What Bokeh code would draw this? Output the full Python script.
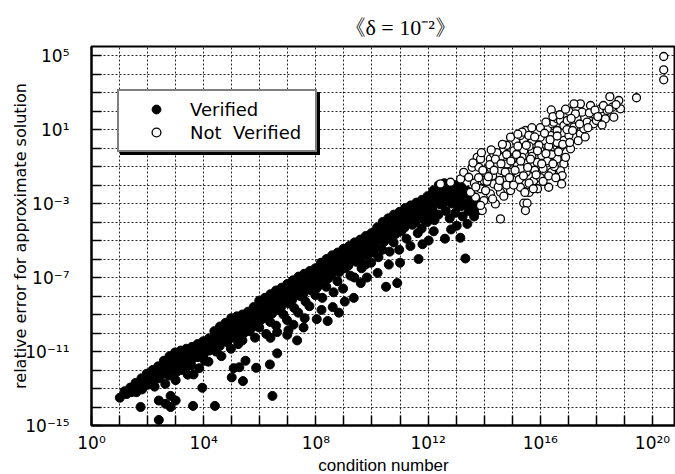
from bokeh.plotting import figure
from bokeh.models import (Range1d, FixedTicker, CustomJSTickFormatter, Legend,
                          LegendItem, ColumnDataSource, Title)
from bokeh.core.properties import value
from bokeh.embed import file_html
from bokeh.resources import INLINE

# ---------------- data (log10 values) ----------------
title_text = "《δ = 10⁻²》"
x_axis_title = "condition number"
y_axis_title = "relative error for approximate solution"
series_names = ["Verified", "Not  Verified"]

x_tick_exponents = list(range(0, 21))
x_label_exponents = [0, 4, 8, 12, 16, 20]
x_tick_labels = ["10⁰", "10⁴", "10⁸", "10¹²", "10¹⁶", "10²⁰"]
y_tick_exponents = list(range(-15, 6))
y_label_exponents = [5, 1, -3, -7, -11, -15]
y_tick_labels = ["10⁵", "10¹", "10⁻³", "10⁻⁷", "10⁻¹¹", "10⁻¹⁵"]

# (log10 condition number, log10 relative error)
verified_points = [
    (1.18, -13.15), (1.25, -13.3), (1.38, -12.95), (1.42, -13.2),
    (1.57, -12.7), (1.63, -12.95), (1.6, -13.2), (1.78, -12.45), (1.83, -12.75), (1.8, -13.05),
    (1.97, -12.2), (2.02, -12.5), (2.0, -12.8), (2.18, -12.0), (2.22, -12.3), (2.2, -12.6), (2.25, -12.9),
    (2.38, -11.8), (2.42, -12.1), (2.4, -12.45), (2.58, -11.5), (2.62, -11.85), (2.6, -12.2), (2.63, -12.75),
    (2.78, -11.25), (2.82, -11.6), (2.8, -11.95), (2.77, -12.3),
    (2.98, -11.05), (3.02, -11.4), (3.0, -11.75), (3.04, -12.1), (3.0, -12.55),
    (3.18, -10.95), (3.22, -11.3), (3.2, -11.65), (3.24, -12.0),
    (3.38, -10.85), (3.42, -11.2), (3.4, -11.5), (3.37, -11.85), (3.43, -12.25),
    (3.58, -10.75), (3.62, -11.05), (3.6, -11.4), (3.56, -11.75),
    (3.78, -10.6), (3.82, -10.95), (3.8, -11.3), (3.84, -11.9),
    (3.98, -10.45), (4.02, -10.8), (4.0, -11.15), (4.04, -11.5),
    (4.18, -10.3), (4.22, -10.6), (4.2, -10.95), (4.17, -11.55),
    (4.38, -9.9), (4.42, -10.25), (4.4, -10.6), (4.44, -11.0),
    (4.58, -9.65), (4.62, -10.0), (4.6, -10.35), (4.57, -10.7), (4.63, -11.25),
    (4.78, -9.45), (4.82, -9.8), (4.8, -10.15), (4.84, -10.5),
    (4.98, -9.2), (5.02, -9.55), (5.0, -9.9), (5.04, -10.25), (4.97, -10.85),
    (5.18, -9.1), (5.22, -9.45), (5.2, -9.8), (5.16, -10.15), (5.23, -10.6),
    (5.38, -9.0), (5.42, -9.3), (5.4, -9.65), (5.44, -10.0), (5.38, -10.4),
    (5.58, -8.85), (5.62, -9.2), (5.6, -9.55), (5.64, -9.9),
    (5.78, -8.6), (5.82, -8.95), (5.8, -9.3), (5.76, -9.65), (5.83, -10.25),
    (5.98, -8.25), (6.02, -8.6), (6.0, -8.95), (6.04, -9.3), (5.98, -9.7),
    (6.18, -8.1), (6.22, -8.45), (6.2, -8.8), (6.16, -9.15), (6.23, -10.05),
    (6.38, -7.9), (6.42, -8.25), (6.4, -8.6), (6.44, -8.95), (6.37, -9.4),
    (6.58, -7.7), (6.62, -8.05), (6.6, -8.4), (6.64, -8.75), (6.58, -9.6), (6.62, -9.95),
    (6.78, -7.55), (6.82, -7.9), (6.8, -8.25), (6.76, -8.6), (6.84, -9.0),
    (6.98, -7.35), (7.02, -7.7), (7.0, -8.05), (7.04, -8.4), (6.97, -9.3), (7.02, -9.85),
    (7.18, -7.15), (7.22, -7.5), (7.2, -7.85), (7.16, -8.2), (7.23, -8.65), (7.2, -9.55),
    (7.38, -6.95), (7.42, -7.3), (7.4, -7.65), (7.44, -8.0), (7.37, -8.9),
    (7.58, -6.8), (7.62, -7.15), (7.6, -7.5), (7.56, -7.85), (7.63, -8.3), (7.6, -9.2),
    (7.78, -6.65), (7.82, -7.0), (7.8, -7.35), (7.84, -7.7), (7.77, -8.55),
    (7.98, -6.5), (8.02, -6.85), (8.0, -7.2), (8.04, -7.55), (7.98, -7.95), (8.03, -9.25),
    (8.18, -6.2), (8.22, -6.55), (8.2, -6.9), (8.16, -7.25), (8.23, -8.1), (8.2, -8.75),
    (8.38, -6.0), (8.42, -6.35), (8.4, -6.7), (8.44, -7.05), (8.37, -7.5), (8.42, -9.35),
    (8.58, -5.8), (8.62, -6.15), (8.6, -6.5), (8.56, -6.85), (8.63, -7.8), (8.6, -8.6),
    (8.78, -5.65), (8.82, -6.0), (8.8, -6.35), (8.84, -6.7), (8.77, -7.2), (8.82, -8.9),
    (8.98, -5.45), (9.02, -5.8), (9.0, -6.15), (9.04, -6.5), (8.97, -7.6), (9.03, -8.3),
    (9.18, -5.3), (9.22, -5.65), (9.2, -6.0), (9.16, -6.35), (9.23, -6.9),
    (9.38, -5.1), (9.42, -5.45), (9.4, -5.8), (9.44, -6.15), (9.37, -7.0), (9.35, -8.1),
    (9.58, -4.95), (9.62, -5.3), (9.6, -5.65), (9.56, -6.0), (9.63, -6.5), (9.6, -7.3),
    (9.78, -4.75), (9.82, -5.1), (9.8, -5.45), (9.84, -5.8), (9.77, -6.3), (9.82, -7.0),
    (9.98, -4.6), (10.02, -4.95), (10.0, -5.3), (10.04, -5.65), (9.97, -6.2),
    (10.18, -4.3), (10.22, -4.65), (10.2, -5.0), (10.16, -5.35), (10.23, -5.9), (10.2, -6.75),
    (10.38, -4.0), (10.42, -4.35), (10.4, -4.7), (10.44, -5.05), (10.37, -5.5), (10.5, -7.5),
    (10.58, -3.8), (10.62, -4.15), (10.6, -4.5), (10.56, -4.85), (10.63, -5.6), (10.6, -6.3),
    (10.78, -3.6), (10.82, -3.95), (10.8, -4.3), (10.84, -4.65), (10.77, -5.1), (10.9, -7.3),
    (10.98, -3.45), (11.02, -3.8), (11.0, -4.15), (11.04, -4.5), (10.97, -5.5), (11.0, -6.2),
    (11.18, -3.25), (11.22, -3.6), (11.2, -3.95), (11.16, -4.3), (11.23, -4.9),
    (11.38, -3.1), (11.42, -3.45), (11.4, -3.8), (11.44, -4.15), (11.37, -5.3),
    (11.58, -2.95), (11.62, -3.3), (11.6, -3.65), (11.56, -4.0), (11.66, -6.0), (11.63, -4.6),
    (11.78, -2.8), (11.82, -3.15), (11.8, -3.5), (11.84, -3.85), (11.77, -4.35), (11.8, -5.2),
    (11.98, -2.6), (12.02, -2.95), (12.0, -3.3), (12.04, -3.65), (11.97, -4.0), (12.02, -5.0),
    (12.18, -2.3), (12.22, -2.65), (12.2, -3.0), (12.16, -3.35), (12.23, -3.9), (12.2, -4.5),
    (12.38, -2.0), (12.42, -2.35), (12.4, -2.7), (12.44, -3.05), (12.37, -3.6),
    (12.58, -1.9), (12.62, -2.25), (12.6, -2.6), (12.56, -2.95), (12.63, -3.4), (12.6, -4.9),
    (12.78, -1.95), (12.82, -2.3), (12.8, -2.65), (12.84, -3.0), (12.77, -3.8), (12.82, -4.4),
    (12.98, -2.0), (13.02, -2.35), (13.0, -2.7), (13.04, -3.05), (12.97, -3.5), (13.02, -4.2),
    (13.18, -2.1), (13.22, -2.45), (13.2, -2.8), (13.16, -3.15), (13.15, -4.85), (13.23, -3.7),
    (13.38, -2.3), (13.42, -2.65), (13.4, -3.0), (13.44, -3.4), (13.33, -5.97), (13.4, -4.1),
    (13.58, -2.6), (13.62, -2.95), (13.6, -3.3), (13.64, -3.7),
    (13.78, -3.0), (13.82, -3.35),
    # scattered low points
    (1.01, -13.5), (1.75, -14.0), (2.4, -14.7), (2.4, -13.65), (2.64, -13.83), (2.82, -14.0),
    (3.0, -13.65), (2.82, -13.4), (3.62, -13.94), (4.4, -13.94), (3.95, -12.96), (3.64, -12.24),
    (5.0, -12.4), (5.4, -12.6), (5.07, -11.9), (5.27, -11.85), (5.49, -11.5), (5.87, -11.88),
    (6.36, -11.7), (6.45, -13.4), (6.62, -11.1), (6.98, -10.1), (7.33, -10.4), (6.38, -10.26),
    (7.56, -9.7),
]

not_verified_points = [
    (12.44, -1.94), (12.8, -1.85), (13.16, -1.67), (13.27, -1.31), (13.45, -1.58), (13.57, -1.04),
    (13.81, -1.04), (13.75, -0.5), (13.87, -0.59), (14.22, -0.59), (14.58, -0.5), (14.34, -0.32),
    (14.7, -0.04), (15.06, -0.14), (15.41, -0.14), (15.71, -0.23), (16.0, -0.14), (16.36, -0.14),
    (16.72, 0.05), (17.08, -0.04),
    (15.12, 0.41), (15.41, 0.41), (15.77, 0.23), (16.13, 0.41), (16.48, 0.32), (16.84, 0.41),
    (14.94, 0.59), (15.29, 0.68), (15.47, 0.95), (15.71, 0.41), (16.0, 0.59), (16.36, 0.68),
    (15.35, 0.86), (15.59, 0.68), (15.89, 0.86), (16.25, 1.04), (16.6, 0.95), (17.02, 0.68),
    (17.43, 0.77),
    (16.42, 1.31), (16.48, 1.4), (16.6, 1.58), (16.72, 1.49), (16.84, 1.22), (16.96, 1.49),
    (17.2, 1.13), (17.31, 1.58), (17.55, 1.04), (17.67, 1.4), (17.9, 1.31), (18.0, 1.49),
    (18.32, 1.58), (18.62, 1.67),
    (16.39, 2.06), (17.02, 1.99), (17.43, 2.39), (17.79, 2.3), (18.15, 2.12), (18.38, 2.03),
    (18.86, 2.12), (17.49, 1.94), (17.85, 1.85), (18.56, 2.21), (17.2, 2.39), (18.48, 2.78),
    (18.8, 2.57), (19.43, 2.72),
    (14.11, -1.13), (14.46, -0.95), (14.82, -0.86), (15.18, -0.95), (15.53, -0.77), (15.89, -0.77),
    (16.25, -0.68), (16.6, -0.59), (16.84, -0.86), (16.72, -1.22), (16.78, -1.49), (16.76, -1.94),
    (16.3, -2.12),
    (15.77, -1.76), (15.41, -1.94), (15.06, -1.67), (14.7, -1.76), (14.34, -1.94), (13.99, -1.76),
    (13.87, -2.2), (14.22, -2.48), (14.58, -2.39), (14.94, -2.3), (15.29, -2.12), (13.99, -2.84),
    (14.4, -3.02), (13.93, -3.38), (14.58, -3.83), (15.41, -2.98), (15.53, -2.98), (15.47, -3.38),
    (13.87, -3.1), (13.69, -2.66), (13.51, -2.39),
    (14.0, -1.3), (14.3, -1.5), (14.6, -1.2), (14.9, -1.3), (15.2, -1.4), (15.5, -1.3),
    (15.8, -1.2), (16.1, -1.1), (16.4, -1.3), (14.45, -0.25), (14.8, 0.15), (15.2, 0.1),
    (15.6, 0.1), (15.95, 0.15), (16.3, 0.1), (16.6, 0.3), (15.0, -0.6), (15.35, -0.5),
    (15.7, -0.45), (16.05, -0.4), (16.4, -0.35), (15.9, -2.2), (15.6, -2.4), (16.0, -1.6),
    (16.5, -1.0), (15.3, -1.1), (14.8, -2.0), (14.1, -1.8),
    (13.65, -1.9), (13.7, -2.1), (13.8, -1.6), (13.95, -1.2), (13.9, -0.25), (13.6, -0.8),
    (14.05, -2.3), (14.15, -1.55), (14.2, -0.9), (14.3, -2.75), (14.35, -1.2), (14.4, -0.6),
    (14.5, -2.1), (14.25, -0.1), (14.55, -1.75), (14.6, -0.85), (14.7, -2.6), (14.75, -1.3),
    (14.8, -0.35), (14.9, -1.6), (14.95, -0.7), (14.65, 0.2), (15.05, -2.0), (15.1, -1.2),
    (15.15, -0.35), (15.25, -1.7), (15.3, -0.7), (15.4, -1.5), (15.45, -2.4), (15.5, 0.15),
    (15.2, 0.75), (15.55, -1.05), (15.6, -1.9), (15.65, -0.6), (15.75, -2.2), (15.8, 0.6),
    (15.85, -1.45), (15.9, -0.15), (16.0, 1.1), (15.7, 1.1), (16.05, -0.85), (16.1, -1.8),
    (16.15, 0.8), (16.2, -0.3), (16.3, -1.5), (16.35, 0.45), (16.45, -0.85), (16.2, 1.4),
    (16.45, 1.7), (16.55, -1.6), (16.6, 0.65), (16.65, -0.2), (16.8, 0.2), (16.9, -0.5),
    (16.95, 1.0), (16.7, 1.8), (16.9, 2.1), (17.05, 0.3), (17.15, 0.95), (17.25, 1.85),
    (17.35, 0.4), (17.4, 1.3), (17.1, 1.6), (17.6, 0.6), (17.7, 1.1), (17.75, 1.9),
    (17.95, 2.05), (18.05, 1.7), (18.25, 2.3), (18.45, 2.1), (18.7, 2.35), (18.2, 1.25),
    (20.4, 4.95), (20.4, 4.23), (20.4, 3.69),
]

# ---------------- figure ----------------
x_lo_exp, x_hi_exp = 0.0, 20.82
y_lo_exp, y_hi_exp = -15.0, 5.49

p = figure(width=675, height=474, x_axis_type="log", y_axis_type="log",
           x_range=Range1d(10 ** x_lo_exp, 10 ** x_hi_exp),
           y_range=Range1d(10 ** y_lo_exp, 10 ** y_hi_exp),
           output_backend="svg", toolbar_location=None,
           min_border_left=91, min_border_right=0, min_border_top=46, min_border_bottom=49)

p.background_fill_color = "white"
p.border_fill_color = "white"
p.outline_line_color = "black"
p.outline_line_width = 2

p.title.text = title_text
p.title.align = "left"
p.title.offset = 252
p.title.text_font = "Liberation Serif"
p.title.text_font_size = "22px"
p.title.text_font_style = "normal"
p.title.text_color = "black"
p.title.standoff = 14

x_ticks = [10.0 ** e for e in x_tick_exponents]
y_ticks = [10.0 ** e for e in y_tick_exponents]

fmt_code = """
    const e = Math.round(Math.log10(tick));
    const i = exps.indexOf(e);
    return i >= 0 ? texts[i] : "";
"""
xfmt = CustomJSTickFormatter(args=dict(exps=x_label_exponents, texts=x_tick_labels), code=fmt_code)
yfmt = CustomJSTickFormatter(args=dict(exps=y_label_exponents, texts=y_tick_labels), code=fmt_code)

for ax, ticks, fmt in ((p.xaxis[0], x_ticks, xfmt), (p.yaxis[0], y_ticks, yfmt)):
    ax.ticker = FixedTicker(ticks=ticks)
    ax.formatter = fmt
    ax.minor_tick_line_color = None
    ax.major_tick_in = 10
    ax.major_tick_out = 0
    ax.major_tick_line_color = "black"
    ax.major_tick_line_width = 1.5
    ax.axis_line_color = "black"
    ax.axis_line_width = 2
    ax.major_label_text_font = "DejaVu Sans"
    ax.major_label_text_font_size = "17px"
    ax.major_label_text_color = "black"
    ax.axis_label_text_font_style = "normal"
    ax.axis_label_text_color = "black"

p.xaxis.major_label_standoff = 7

p.yaxis.axis_label = y_axis_title
p.yaxis.axis_label_text_font = "DejaVu Sans"
p.yaxis.axis_label_text_font_size = "16px"
p.yaxis.major_label_standoff = 22
p.yaxis.axis_label_standoff = -8

# x-axis title as a panel directly under the tick labels
p.add_layout(Title(text=x_axis_title, align="center", standoff=-4,
                   text_font="Liberation Sans", text_font_size="17px",
                   text_font_style="normal", text_color="black"), "below")

p.xgrid.ticker = FixedTicker(ticks=x_ticks)
p.ygrid.ticker = FixedTicker(ticks=y_ticks)
p.grid.grid_line_color = "black"
p.grid.grid_line_alpha = 0.85
p.grid.grid_line_width = 1
p.grid.grid_line_dash = "2 2"

src_v = ColumnDataSource(dict(x=[10.0 ** a for a, b in verified_points],
                              y=[10.0 ** b for a, b in verified_points]))
src_n = ColumnDataSource(dict(x=[10.0 ** a for a, b in not_verified_points],
                              y=[10.0 ** b for a, b in not_verified_points]))

r_v = p.scatter("x", "y", source=src_v, marker="circle", size=9,
                fill_color="black", line_color="black", line_width=1)
r_n = p.scatter("x", "y", source=src_n, marker="circle", size=8,
                fill_color="white", line_color="black", line_width=1.3)


def make_legend(loc, shadow):
    labels = ["", ""] if shadow else series_names
    lg = Legend(items=[LegendItem(label=value(labels[0]), renderers=[r_v]),
                       LegendItem(label=value(labels[1]), renderers=[r_n])],
                location=loc)
    lg.label_text_font = "DejaVu Sans"
    lg.label_text_font_size = "18px"
    lg.label_text_color = "black"
    lg.label_height = 22
    lg.label_width = 118
    lg.glyph_height = 22
    lg.glyph_width = 60
    lg.label_standoff = 4
    lg.spacing = 1
    lg.padding = 7
    lg.margin = 0
    lg.border_line_color = "black"
    lg.border_line_width = 2
    lg.background_fill_alpha = 1
    lg.background_fill_color = "black" if shadow else "white"
    return lg


p.add_layout(make_legend((29, 270), True), "center")
p.add_layout(make_legend((26, 273), False), "center")

open("out.html", "w").write(file_html(p, INLINE))
